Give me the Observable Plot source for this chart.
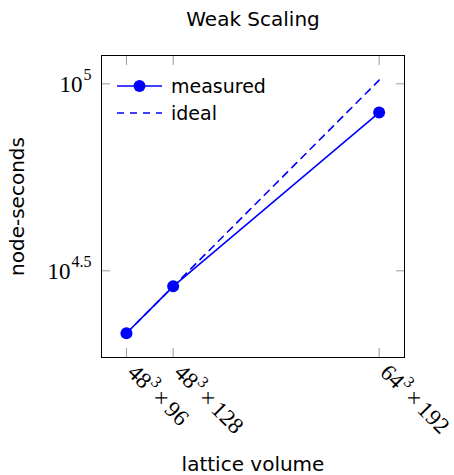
<!DOCTYPE html>
<html>
<head>
<meta charset="utf-8">
<script src="https://cdn.jsdelivr.net/npm/d3@7"></script>
<script src="https://cdn.jsdelivr.net/npm/@observablehq/plot@0.6"></script>
<style>
  html, body { margin: 0; padding: 0; background: #fff; }
  #wrap { position: relative; width: 454px; height: 475px; }
  #legend { position: absolute; left: 116px; top: 72px; font-family: "DejaVu Sans", sans-serif; font-size: 19px; color: #000; }
  .row { display: flex; align-items: center; height: 27.5px; }
  .row svg { margin-right: 8px; }
</style>
</head>
<body>
<div id="wrap"></div>
<script>
// ---- data ----
const tickBase = ["48", "48", "64"];
const tickExp = ["3", "3", "3"];
const tickRest = ["96", "128", "192"];
const volumes = [10616832, 14155776, 50331648];
const measured = [21540, 28750, 83800];
const ideal = [21540, 28720, 102300];
const yTickValues = [31622.78, 100000];
const yTickBase = ["10", "10"];
const yTickExp = ["4.5", "5"];

const blue = "#0000ff";
const serif = "'Liberation Serif', serif";
const sans = "'DejaVu Sans', sans-serif";

const rows = volumes.map((v, i) => ({v, measured: measured[i], ideal: ideal[i]}));

const ctx = document.createElement("canvas").getContext("2d");
const measure = (s, size) => { ctx.font = `${size}px 'Liberation Serif'`; return ctx.measureText(s).width; };

// y tick labels: 10 with superscript exponent, right-aligned
const gap = 10;
const yLabelMarks = yTickValues.flatMap((t, i) => {
  const w = measure(yTickExp[i], 16);
  return [
    Plot.text([t], {y: d => d, frameAnchor: "left", text: [yTickExp[i]], textAnchor: "end", dx: -gap, dy: -9, fontSize: 16, fontFamily: serif, fill: "black"}),
    Plot.text([t], {y: d => d, frameAnchor: "left", text: [yTickBase[i]], textAnchor: "end", dx: -gap - w - 1, dy: 1, fontSize: 23, fontFamily: serif, fill: "black"})
  ];
});

// x tick labels: rotated 45°, base + superscript + × + rest
const c = Math.SQRT1_2;
const x0 = 5, y0 = 11;
const off = (s, p) => ({dx: x0 + s * c + p * c, dy: y0 + s * c - p * c});
const xLabelMarks = volumes.flatMap((v, i) => {
  const s1 = measure(tickBase[i], 23) + 0.5;
  const s2 = s1 + measure(tickExp[i], 16) + 4;
  const s3 = s2 + measure("×", 23) + 4;
  const common = {x: d => d, frameAnchor: "bottom", rotate: 45, textAnchor: "start", lineAnchor: "middle", fontFamily: serif, fill: "black"};
  return [
    Plot.text([v], {...common, text: [tickBase[i]], fontSize: 23, ...off(0, 0)}),
    Plot.text([v], {...common, text: [tickExp[i]], fontSize: 16, ...off(s1, 8)}),
    Plot.text([v], {...common, text: ["×"], fontSize: 23, ...off(s2, 0)}),
    Plot.text([v], {...common, text: [tickRest[i]], fontSize: 23, ...off(s3, 0)})
  ];
});

const chart = Plot.plot({
  width: 454,
  height: 475,
  marginLeft: 101,
  marginRight: 50,
  marginTop: 55,
  marginBottom: 118,
  style: {background: "white", overflow: "visible"},
  x: {type: "log", domain: [9.105e6, 5.884e7], axis: null},
  y: {type: "log", domain: [18548, 119070], axis: null},
  marks: [
    Plot.axisX(volumes, {anchor: "bottom", tickSize: -9, tickFormat: () => "", stroke: "#999", label: null}),
    Plot.axisX(volumes, {anchor: "top", tickSize: -9, tickFormat: () => "", stroke: "#999", label: null}),
    Plot.axisY(yTickValues, {anchor: "left", tickSize: -9, tickFormat: () => "", stroke: "#999", label: null}),
    Plot.axisY(yTickValues, {anchor: "right", tickSize: -9, tickFormat: () => "", stroke: "#999", label: null}),
    Plot.frame({stroke: "black", strokeWidth: 1}),
    Plot.line(rows, {x: "v", y: "ideal", stroke: blue, strokeWidth: 1.6, strokeDasharray: "7,6"}),
    Plot.line(rows, {x: "v", y: "measured", stroke: blue, strokeWidth: 1.6}),
    Plot.dot(rows, {x: "v", y: "measured", r: 6, fill: blue, stroke: "none"}),
    ...xLabelMarks,
    ...yLabelMarks,
    Plot.text(["Weak Scaling"], {frameAnchor: "top", text: d => d, textAnchor: "middle", dy: -36, lineAnchor: "middle", fontSize: 20, fontFamily: sans, fill: "black"}),
    Plot.text(["lattice volume"], {frameAnchor: "bottom", text: d => d, textAnchor: "middle", dy: 107, lineAnchor: "middle", fontSize: 20, fontFamily: sans, fill: "black"}),
    Plot.text(["node-seconds"], {frameAnchor: "left", text: d => d, textAnchor: "middle", dx: -84, rotate: -90, lineAnchor: "middle", fontSize: 20, fontFamily: sans, fill: "black"})
  ]
});

const wrap = document.getElementById("wrap");
wrap.appendChild(chart);

const legend = document.createElement("div");
legend.id = "legend";
legend.innerHTML = `
  <div class="row"><svg width="47" height="14"><line x1="1" y1="7" x2="46" y2="7" stroke="${blue}" stroke-width="1.6"/><circle cx="23.5" cy="7" r="6" fill="${blue}"/></svg><span>measured</span></div>
  <div class="row"><svg width="47" height="14"><line x1="1" y1="7" x2="46" y2="7" stroke="${blue}" stroke-width="1.6" stroke-dasharray="7,6"/></svg><span>ideal</span></div>`;
wrap.appendChild(legend);
</script>
</body>
</html>
